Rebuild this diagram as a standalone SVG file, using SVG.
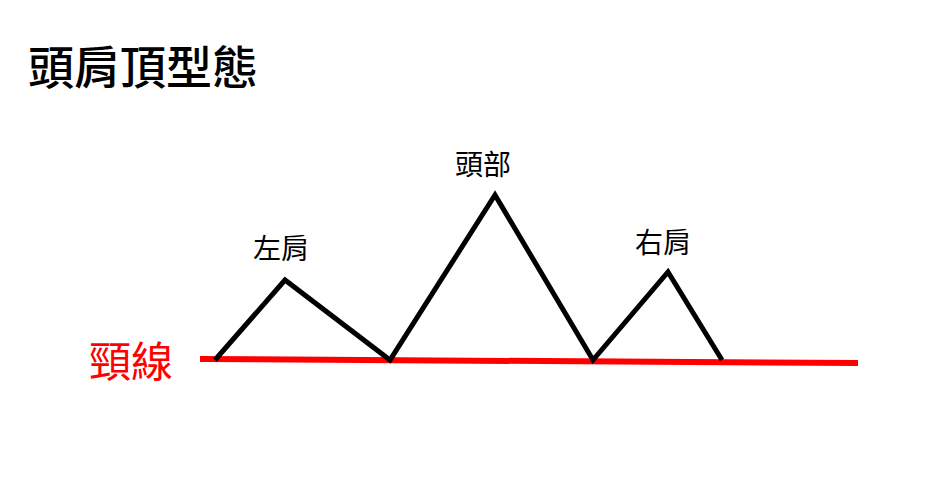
<svg xmlns="http://www.w3.org/2000/svg" width="940" height="483" viewBox="0 0 940 483">
<style>
text{font-family:"Noto Sans CJK TC","Noto Sans CJK SC",sans-serif;fill:#000}
.lbl{font-size:28px;text-anchor:middle}
</style>
<rect width="940" height="483" fill="#fff"/>
<text x="28" y="84" font-size="46" font-weight="500">頭肩頂型態</text>
<g id="connectors">
<line x1="200" y1="359" x2="858" y2="363" stroke="#ff0000" stroke-width="6"/>
<polyline points="215,360 285,280 390,360 495,195 593,360 668,272 722,360" fill="none" stroke="#000" stroke-width="5" stroke-linejoin="miter"/>
</g>
<g id="left-shoulder"><text class="lbl" x="281" y="259">左肩</text></g>
<g id="head"><text class="lbl" x="483" y="175">頭部</text></g>
<g id="right-shoulder"><text class="lbl" x="663" y="253">右肩</text></g>
<g id="neckline"><text x="89" y="377" font-size="42" style="fill:#ff0000">頸線</text></g>
</svg>
